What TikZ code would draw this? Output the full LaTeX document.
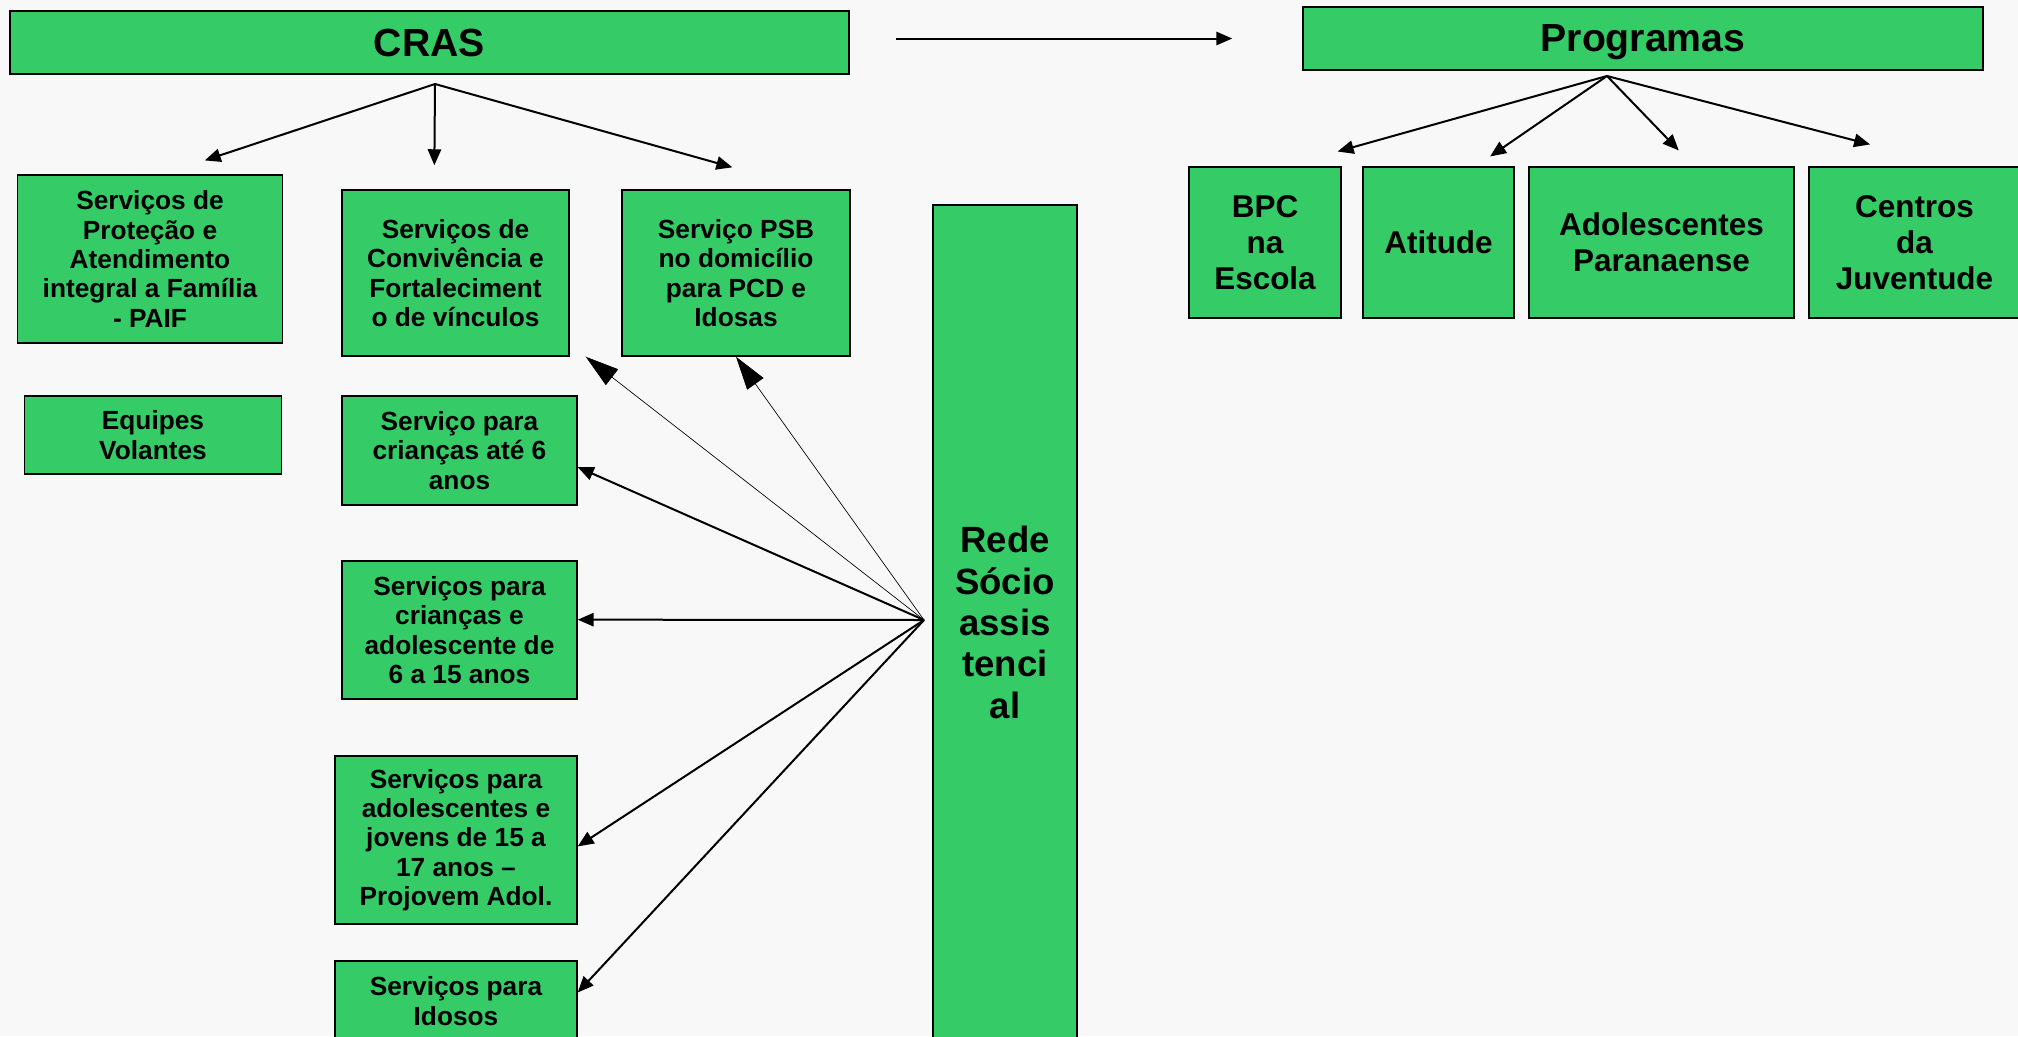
\documentclass[tikz,border=0pt]{standalone}
\usepackage{fontspec}
\setmainfont{Liberation Sans}
\usepackage{tikz}
\usetikzlibrary{arrows.meta}
\definecolor{boxgreen}{RGB}{53,204,104}
\definecolor{bggray}{RGB}{248,248,248}

\begin{document}
\begin{tikzpicture}[x=0.75pt,y=0.75pt,yscale=-1,xscale=1,
  servbox/.style={draw=black, line width=1.1pt, fill=boxgreen, align=center, inner sep=2pt, font=\fontsize{19.7pt}{22pt}\selectfont\bfseries},
  headbox/.style={servbox, text depth=0pt, font=\fontsize{29.4pt}{34pt}\selectfont\bfseries},
  progbox/.style={servbox, font=\fontsize{23.6pt}{27pt}\selectfont\bfseries},
  redebox/.style={servbox, font=\fontsize{27.4pt}{31pt}\selectfont\bfseries},
  arrowline/.style={line width=1.5pt, -{Triangle[length=12pt,width=10pt]}},
  thinline/.style={line width=0.5pt, -{Triangle[length=25pt,width=15pt]}}]
\useasboundingbox (0,0) rectangle (2018,1036);
\clip (0,0) rectangle (2018,1036);
\fill[bggray] (0,0) rectangle (2018,1036);

%Shape: Rectangle [id:cras] 
\node[headbox, minimum width=629.25pt, minimum height=47.25pt] (cras) at (429.5,42.5) {CRAS};
%Shape: Rectangle [id:programas] 
\node[headbox, minimum width=510pt, minimum height=47.25pt] (prog) at (1643,38.5) {Programas};

%Shape: Rectangle [id:paif] 
\node[servbox, minimum width=198.4pt, minimum height=126pt] (paif) at (150,259) {Serviços de\\Proteção e\\Atendimento\\integral a Família\\- PAIF};
%Shape: Rectangle [id:convivencia] 
\node[servbox, minimum width=170.25pt, minimum height=124.5pt] (conv) at (455.5,273) {Serviços de\\Convivência e\\Fortaleciment\\o de vínculos};
%Shape: Rectangle [id:psb] 
\node[servbox, minimum width=171pt, minimum height=124.5pt] (psb) at (736,273) {Serviço PSB\\no domicílio\\para PCD e\\Idosas};
%Shape: Rectangle [id:equipes] 
\node[servbox, minimum width=193.1pt, minimum height=58.5pt] (equip) at (153,435) {Equipes\\Volantes};
%Shape: Rectangle [id:ate6] 
\node[servbox, minimum width=176.25pt, minimum height=81.75pt] (ate6) at (459.5,450.5) {Serviço para\\crianças até 6\\anos};
%Shape: Rectangle [id:de6a15] 
\node[servbox, minimum width=176.25pt, minimum height=103.5pt] (cri15) at (459.5,630) {Serviços para\\crianças e\\adolescente de\\6 a 15 anos};
%Shape: Rectangle [id:projovem] 
\node[servbox, minimum width=181.5pt, minimum height=126pt] (jov) at (456,840) {Serviços para\\adolescentes e\\jovens de 15 a\\17 anos –\\Projovem Adol.};
%Shape: Rectangle [id:idosos] 
\node[servbox, minimum width=181.5pt, minimum height=60pt] (idos) at (456,1001) {Serviços para\\Idosos};
%Shape: Rectangle [id:rede] 
\node[redebox, minimum width=108pt, minimum height=626.25pt] (rede) at (1005,622.5) {Rede\\Sócio\\assis\\tenci\\al};

%Shape: Rectangle [id:bpc] 
\node[progbox, minimum width=114pt, minimum height=113.25pt] (bpc) at (1265,242.5) {BPC\\na\\Escola};
%Shape: Rectangle [id:atitude] 
\node[progbox, minimum width=113.25pt, minimum height=113.25pt] (atit) at (1438.5,242.5) {Atitude};
%Shape: Rectangle [id:paranaense] 
\node[progbox, minimum width=198.75pt, minimum height=113.25pt] (adol) at (1661.5,242.5) {Adolescentes\\Paranaense};
%Shape: Rectangle [id:centros] 
\node[progbox, minimum width=158.25pt, minimum height=113.25pt] (cent) at (1914.5,242.5) {Centros\\da\\Juventude};

\coordinate (crasfan) at (435,84);
\coordinate (progfan) at (1607,76);
\coordinate (redefan) at (924,620);

%Straight Lines [id:crasprog] 
\draw[arrowline, shorten <=35pt, shorten >=52.5pt] (cras.east |- prog.west) -- (prog.west);

%Straight Lines [id:crasfan] 
\draw[arrowline, shorten >=33pt] (crasfan) -- ([xshift=9.75pt]paif.north);
\draw[arrowline, shorten >=18pt] (crasfan) -- ([xshift=-16pt]conv.north);
\draw[arrowline, shorten >=61pt] (crasfan) -- ([xshift=56pt]psb.north);

%Straight Lines [id:progfan] 
\draw[arrowline, shorten >=41pt] (progfan) -- ([xshift=15pt]bpc.north);
\draw[arrowline, shorten >=13pt] (progfan) -- ([xshift=28pt]atit.north);
\draw[arrowline, shorten >=16.5pt] (progfan) -- ([xshift=24.4pt]adol.north);
\draw[arrowline, shorten >=65pt] (progfan) -- ([xshift=29.6pt]cent.north);

%Straight Lines [id:redefan] 
\draw[thinline] (redefan) -- ([xshift=12pt]conv.south east);
\draw[thinline] (redefan) -- (psb.south);
\draw[arrowline] (redefan) -- (ate6.352.5);
\draw[arrowline] (redefan) -- (cri15.5);
\draw[arrowline] (redefan) -- (jov.357);
\draw[arrowline] (redefan) -- (idos.4);




\end{tikzpicture}
\end{document}
